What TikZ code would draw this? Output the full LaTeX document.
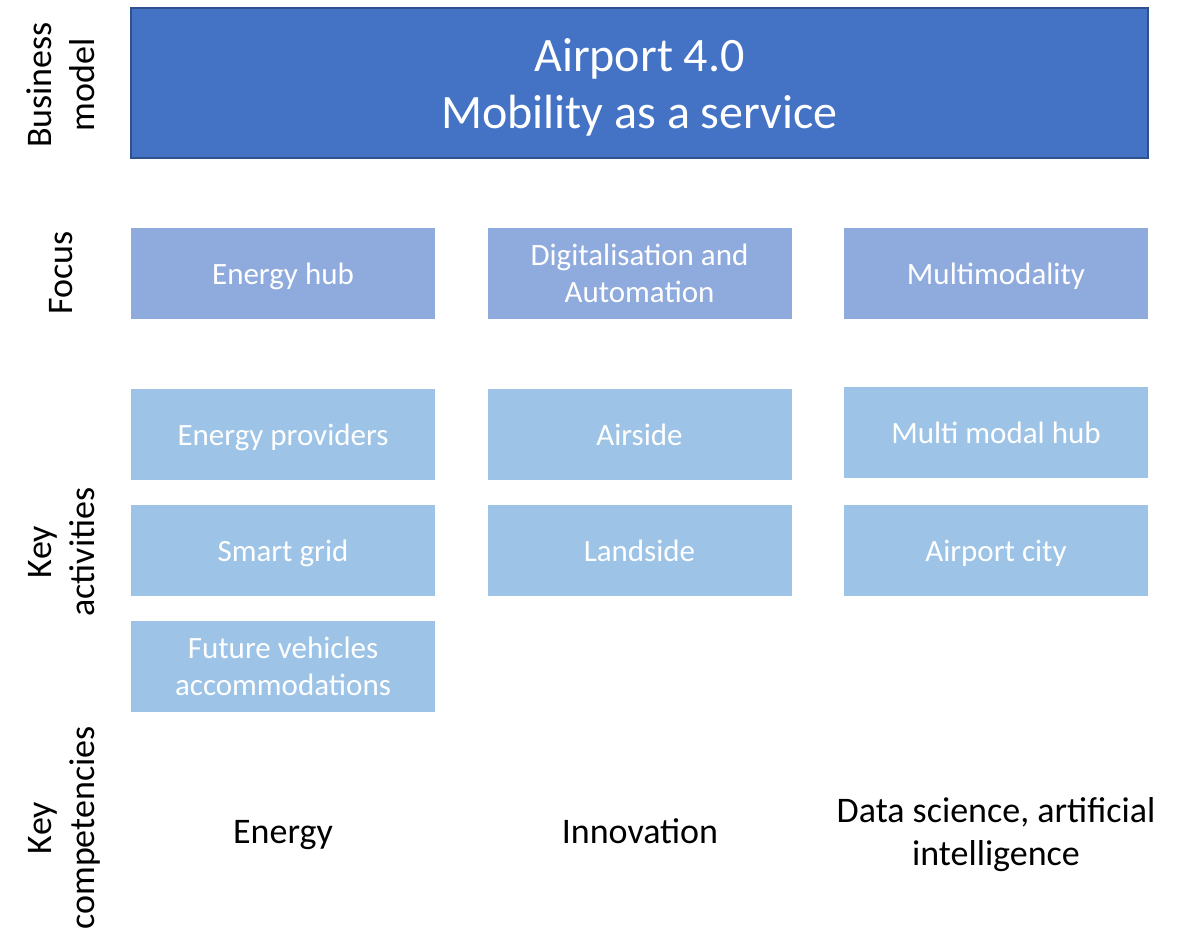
\documentclass[tikz,border=0pt]{standalone}
\usepackage{fontspec}
\setmainfont{Carlito}
\definecolor{topblue}{HTML}{4472C4}
\definecolor{topedge}{HTML}{2F528F}
\definecolor{focusblue}{HTML}{8FAADC}
\definecolor{actblue}{HTML}{9DC3E6}
\newcommand{\ppstrut}{\rule[-0.25em]{0pt}{1.2em}}
\newcommand{\twolines}[2]{{\renewcommand{\arraystretch}{0}\begin{tabular}{@{}c@{}}\ppstrut #1\\\ppstrut #2\end{tabular}}}
\begin{document}
\begin{tikzpicture}[x=1pt,y=-1pt,
  txt/.style={align=center,inner sep=0pt,execute at begin node=\ppstrut},
  topbox/.style={txt,draw=topedge,line width=2pt,fill=topblue,text=white,minimum width=1017pt,minimum height=150pt,font=\fontsize{48}{58}\selectfont},
  focusbox/.style={txt,fill=focusblue,text=white,minimum width=304pt,minimum height=91pt,font=\fontsize{31}{37.5}\selectfont},
  actbox/.style={txt,fill=actblue,text=white,minimum width=304pt,minimum height=91pt,font=\fontsize{31}{37.5}\selectfont},
  comptext/.style={txt,text=black,font=\fontsize{36}{45}\selectfont},
  rowlabel/.style={txt,text=black,rotate=90,font=\fontsize{36}{45}\selectfont}]
\useasboundingbox (0,0) rectangle (1186,934);
\node[topbox] (top) at (639.5,83) {\twolines{Airport 4.0}{Mobility as a service}};
\node[focusbox] (f1) at (283,273.5) {Energy hub};
\node[focusbox] (f2) at (639.5,273.5) {\twolines{Digitalisation and}{Automation}};
\node[focusbox] (f3) at (996,273.5) {Multimodality};
\node[actbox] (a11) at (283,434.5) {Energy providers};
\node[actbox] (a12) at (283,550.5) {Smart grid};
\node[actbox] (a13) at (283,666.5) {\twolines{Future vehicles}{accommodations}};
\node[actbox] (a21) at (639.5,434.5) {Airside};
\node[actbox] (a22) at (639.5,550.5) {Landside};
\node[actbox] (a31) at (996,432.5) {Multi modal hub};
\node[actbox] (a32) at (996,550.5) {Airport city};
\node[comptext] (c1) at (283,831) {Energy};
\node[comptext] (c2) at (640,831) {Innovation};
\node[comptext] (c3) at (996,831) {\twolines{Data science, artificial}{intelligence}};
\node[rowlabel] (l1) at (60,85) {\twolines{Business}{model}};
\node[rowlabel] (l2) at (60,273) {Focus};
\node[rowlabel] (l3) at (60,552) {\twolines{Key}{activities}};
\node[rowlabel] (l4) at (60,828) {\twolines{Key}{competencies}};
\end{tikzpicture}
\end{document}
